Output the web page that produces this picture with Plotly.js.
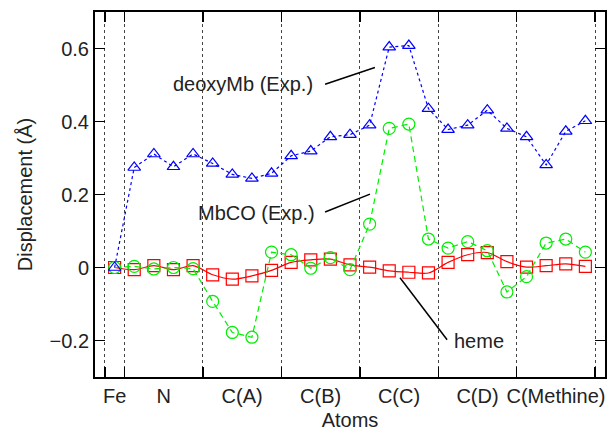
<!DOCTYPE html>
<html>
<head>
<meta charset="utf-8">
<script src="https://cdn.plot.ly/plotly-3.0.1.min.js"></script>
<style>html,body{margin:0;padding:0;background:#fff;}#chart{width:610px;height:431px;}</style>
</head>
<body>
<div id="chart"></div>
<script>
// atom index along the x axis (Fe, N x4, C(A) x4, C(B) x4, C(C) x4, C(D) x4, C(Methine) x4)
const atomIndex = [0,1,2,3,4,5,6,7,8,9,10,11,12,13,14,15,16,17,18,19,20,21,22,23,24];
const deoxyMb = [0.000,0.274,0.311,0.276,0.311,0.285,0.255,0.244,0.258,0.306,0.319,0.358,0.364,
                 0.390,0.604,0.608,0.435,0.378,0.390,0.431,0.381,0.358,0.281,0.373,0.402];
const mbCO    = [0.000,0.003,-0.004,0.000,-0.003,-0.093,-0.178,-0.191,0.042,0.035,-0.002,0.027,-0.006,
                 0.119,0.381,0.393,0.078,0.053,0.071,0.046,-0.067,-0.025,0.067,0.078,0.042];
const heme    = [0.000,-0.006,0.005,-0.006,0.005,-0.020,-0.032,-0.023,-0.008,0.014,0.021,0.023,0.007,
                 0.001,-0.009,-0.013,-0.015,0.014,0.035,0.041,0.016,0.001,0.005,0.010,0.003];
const groupLabels  = ["Fe","N","C(A)","C(B)","C(C)","C(D)","C(Methine)"];
const groupCenters = [0,2.5,6.5,10.5,14.5,18.5,22.5];
const groupBounds  = [-0.5,0.5,4.5,8.5,12.5,16.5,20.5,24.5];
const yTicks = [-0.2,0,0.2,0.4,0.6];

const FONT = "Liberation Sans, Arial, Helvetica, sans-serif";
const TXT = "#222";

const traces = [
  {x: atomIndex, y: heme, type: "scatter", mode: "lines+markers", name: "heme",
   line: {color: "#ff0000", width: 1.2, shape: "spline", smoothing: 0.8},
   marker: {symbol: "square-open", size: 12, color: "#ff0000", line: {width: 1.2}}},
  {x: atomIndex, y: mbCO, type: "scatter", mode: "lines+markers", name: "MbCO (Exp.)",
   line: {color: "#00ee00", width: 1.2, dash: "6px,4px"},
   marker: {symbol: "circle-open", size: 12, color: "#00ee00", line: {width: 1.2}}},
  {x: atomIndex, y: deoxyMb, type: "scatter", mode: "lines+markers", name: "deoxyMb (Exp.)",
   line: {color: "#0000ff", width: 1.2, dash: "3px,3px"},
   marker: {symbol: "triangle-up-open", size: 11, color: "#0000ff", line: {width: 1.2}}}
];

const layout = {
  width: 610, height: 431,
  margin: {l: 95, r: 5, t: 12, b: 54},
  paper_bgcolor: "#fff", plot_bgcolor: "#fff",
  showlegend: false,
  font: {family: FONT, size: 20, color: TXT},
  xaxis: {
    range: [-1, 25], tickmode: "array", tickvals: groupCenters, ticktext: groupLabels,
    ticks: "", showticklabels: true, tickfont: {size: 20, color: TXT},
    showline: true, linewidth: 2, linecolor: "#000", mirror: "ticks",
    showgrid: false, zeroline: false,
    minor: {tickmode: "array", tickvals: groupBounds, ticks: "inside", ticklen: 10,
            tickwidth: 1.5, tickcolor: "#000",
            showgrid: true, gridcolor: "#444", gridwidth: 1, griddash: "dot"},
    title: {text: "Atoms", font: {size: 20, color: TXT}, standoff: 12}
  },
  yaxis: {
    range: [-0.3, 0.7], tickmode: "array", tickvals: yTicks,
    ticks: "inside", ticklen: 10, tickwidth: 1.5, tickcolor: "#000",
    showline: true, linewidth: 2, linecolor: "#000", mirror: "ticks",
    showgrid: false, zeroline: false,
    tickfont: {size: 20, color: TXT},
    title: {text: "Displacement (Å)", font: {size: 20, color: TXT}, standoff: 12}
  },
  annotations: [
    {x: 10.22, y: 0.502, xref: "x", yref: "y", text: "deoxyMb (Exp.)", showarrow: false, xanchor: "right", yanchor: "middle"},
    {x: 10.30, y: 0.150, xref: "x", yref: "y", text: "MbCO (Exp.)", showarrow: false, xanchor: "right", yanchor: "middle"},
    {x: 17.19, y: -0.200, xref: "x", yref: "y", text: "heme", showarrow: false, xanchor: "left", yanchor: "middle"}
  ],
  shapes: [
    {type: "line", xref: "x", yref: "y", x0: 10.73, y0: 0.502, x1: 13.27, y1: 0.548, line: {color: "#000", width: 1.5}},
    {type: "line", xref: "x", yref: "y", x0: 10.73, y0: 0.152, x1: 13.02, y1: 0.201, line: {color: "#000", width: 1.5}},
    {type: "line", xref: "x", yref: "y", x0: 14.55, y0: -0.028, x1: 16.95, y1: -0.198, line: {color: "#000", width: 1.5}}
  ]
};

Plotly.newPlot("chart", traces, layout, {displayModeBar: false, staticPlot: true});
</script>
</body>
</html>
